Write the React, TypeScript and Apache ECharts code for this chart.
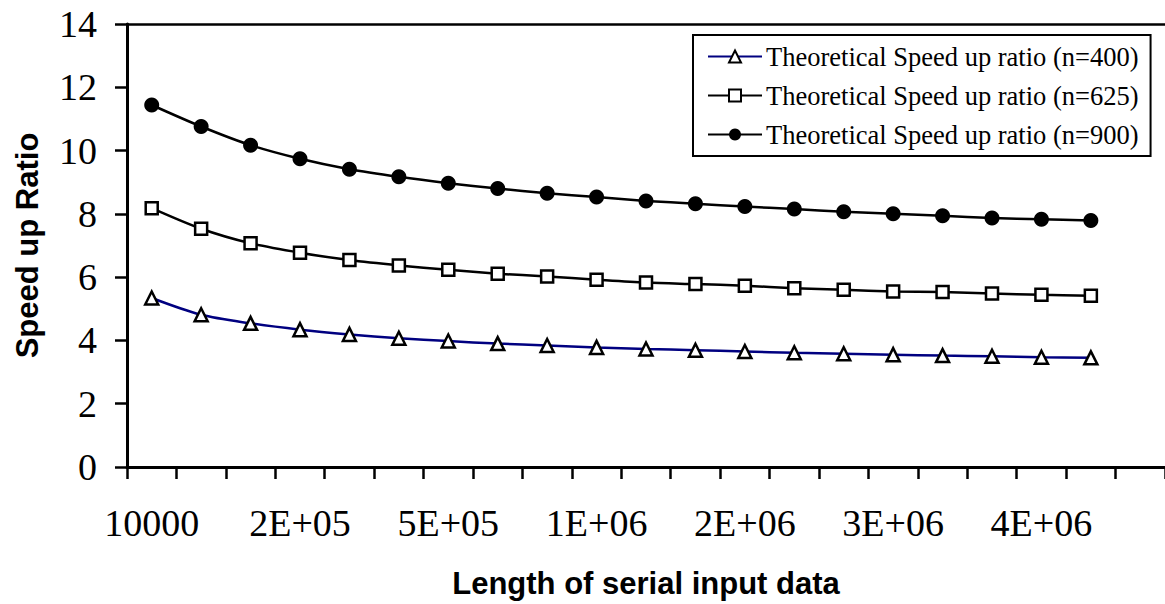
import React, { useEffect, useRef } from "react";
import * as echarts from "echarts";

// Length of serial input data (category values, last slot empty)
const xValues = [
  10000, 40000, 90000, 160000, 250000, 360000, 490000, 640000, 810000, 1000000,
  1210000, 1440000, 1690000, 1960000, 2250000, 2560000, 2890000, 3240000, 3610000, 4000000,
  4410000,
];

const seriesNames = [
  "Theoretical Speed up ratio (n=400)",
  "Theoretical Speed up ratio (n=625)",
  "Theoretical Speed up ratio (n=900)",
];

const speedN400 = [5.34, 4.81, 4.54, 4.34, 4.19, 4.07, 3.98, 3.9, 3.84, 3.78, 3.73, 3.69, 3.65, 3.61, 3.58, 3.55, 3.52, 3.5, 3.47, 3.45];
const speedN625 = [8.18, 7.53, 7.07, 6.77, 6.54, 6.37, 6.23, 6.11, 6.02, 5.92, 5.83, 5.78, 5.73, 5.65, 5.6, 5.55, 5.53, 5.48, 5.44, 5.41];
const speedN900 = [11.44, 10.76, 10.17, 9.74, 9.41, 9.17, 8.97, 8.8, 8.65, 8.53, 8.41, 8.32, 8.23, 8.15, 8.07, 8.0, 7.94, 7.87, 7.83, 7.79];

const yMin = 0;
const yMax = 14;
const yStep = 2;

const SERIF = '"Liberation Serif", "Times New Roman", serif';
const SANS = '"Liberation Sans", Arial, sans-serif';

function excelFormat(v: string | number): string {
  const n = Number(v);
  if (!isFinite(n)) return "";
  if (n < 100000) return String(n);
  const s = n.toExponential(0); // e.g. "2e+5"
  const [m, e] = s.split("e");
  const sign = e[0] === "-" ? "-" : "+";
  const digits = e.replace(/[+-]/, "").padStart(2, "0");
  return `${m}E${sign}${digits}`;
}

export default function App() {
  const ref = useRef<HTMLDivElement>(null);

  useEffect(() => {
    if (!ref.current) return;
    const chart = echarts.init(ref.current, undefined, { renderer: "svg" });
    const cats = xValues.map(String);

    chart.setOption({
      animation: false,
      backgroundColor: "#ffffff",
      grid: { left: 127, top: 24, right: -1, bottom: 137, containLabel: false },
      legend: {
        orient: "vertical",
        left: 693,
        top: 35,
        padding: [8, 12, 8, 14],
        borderColor: "#000",
        borderWidth: 2,
        backgroundColor: "#fff",
        itemWidth: 54,
        itemHeight: 15,
        itemGap: 12,
        textStyle: { fontFamily: SERIF, fontSize: 26.5, color: "#000", padding: [0, 0, 0, -1] },
        data: seriesNames,
      },
      xAxis: [
        {
          type: "category",
          data: cats,
          boundaryGap: true,
          position: "bottom",
          axisLine: { show: true, lineStyle: { color: "#000", width: 3 } },
          axisTick: { show: true, interval: 0, length: 12, lineStyle: { color: "#000", width: 2.5 } },
          axisLabel: {
            interval: 2,
            margin: 37,
            fontFamily: SERIF,
            fontSize: 38,
            color: "#000",
            formatter: (v: string) => excelFormat(v),
          },
          splitLine: { show: false },
          name: "Length of serial input data",
          nameLocation: "middle",
          nameGap: 101,
          nameTextStyle: {
            fontFamily: SANS,
            fontWeight: "bold",
            fontSize: 31,
            color: "#000",
          },
        },
        {
          type: "category",
          data: cats,
          position: "top",
          axisLine: { show: true, lineStyle: { color: "#000", width: 2.5 } },
          axisTick: { show: false },
          axisLabel: { show: false },
          splitLine: { show: false },
        },
      ],
      yAxis: {
        type: "value",
        min: yMin,
        max: yMax,
        interval: yStep,
        axisLine: { show: true, lineStyle: { color: "#000", width: 3 } },
        axisTick: { show: true, length: 12, lineStyle: { color: "#000", width: 2.5 } },
        axisLabel: { margin: 30, fontFamily: SERIF, fontSize: 38, color: "#000" },
        splitLine: { show: false },
        name: "Speed up Ratio",
        nameLocation: "middle",
        nameGap: 84,
        nameTextStyle: {
          fontFamily: SANS,
          fontWeight: "bold",
          fontSize: 31,
          color: "#000",
        },
      },
      series: [
        {
          name: seriesNames[0],
          type: "line",
          data: speedN400,
          smooth: 0.3,
          symbol: "triangle",
          symbolSize: 13,
          lineStyle: { color: "#000080", width: 2.5 },
          itemStyle: { color: "#fff", borderColor: "#000", borderWidth: 2.5 },
          z: 3,
        },
        {
          name: seriesNames[1],
          type: "line",
          data: speedN625,
          smooth: 0.3,
          symbol: "rect",
          symbolSize: 12,
          lineStyle: { color: "#000", width: 2.5 },
          itemStyle: { color: "#fff", borderColor: "#000", borderWidth: 2.5 },
          z: 3,
        },
        {
          name: seriesNames[2],
          type: "line",
          data: speedN900,
          smooth: 0.3,
          symbol: "circle",
          symbolSize: 15,
          lineStyle: { color: "#000", width: 2.5 },
          itemStyle: { color: "#000", borderColor: "#000", borderWidth: 0 },
          z: 3,
        },
      ],
    });

    return () => chart.dispose();
  }, []);

  return (
    <div
      ref={ref}
      style={{ position: "fixed", left: 0, top: 0, width: 1165, height: 604, background: "#fff" }}
    />
  );
}
